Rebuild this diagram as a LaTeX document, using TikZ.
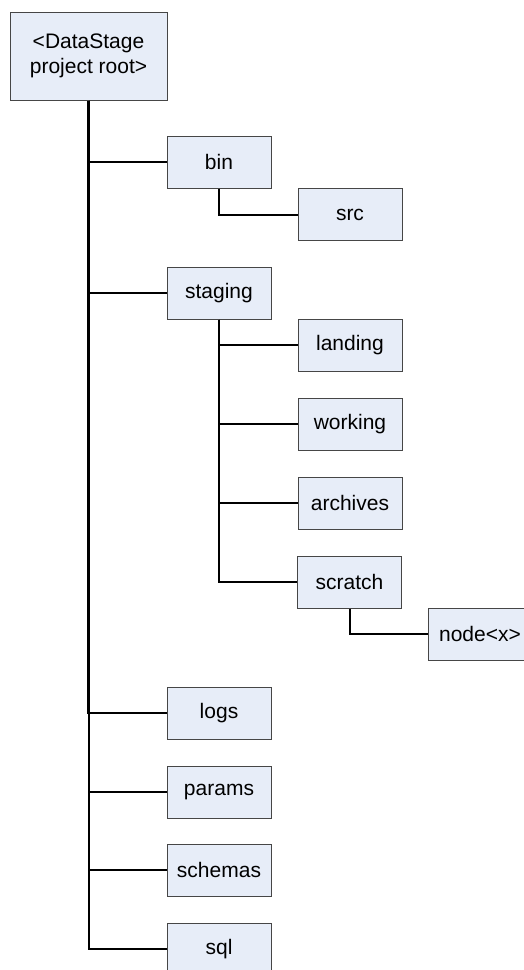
\documentclass[tikz,border=0pt]{standalone}
\usepackage{fontspec}
\setmainfont{Liberation Sans}
\usetikzlibrary{positioning, calc}
\definecolor{dirfill}{RGB}{231,237,248}
\definecolor{dirline}{RGB}{70,70,70}
\tikzset{
  dirbox/.style={
    draw=dirline, fill=dirfill, line width=1pt,
    minimum width=104pt, minimum height=52pt,
    inner sep=0pt, align=center,
    font=\fontsize{21}{25}\selectfont,
  },
  rootbox/.style={dirbox, minimum width=157pt, minimum height=88pt},
  link/.style   ={line width=2pt, black},
  trunk/.style  ={line width=2.6pt, black},
}
\begin{document}
\begin{tikzpicture}[x=1pt, y=-1pt]
\useasboundingbox (0,0) rectangle (523,970);

%% ════════════════════════════════════════════════════════════
%%  connectors (drawn first, boxes go on top)
%% ════════════════════════════════════════════════════════════
\coordinate (rootc)  at (88.5,56);
\coordinate (binc)   at (219,162);
\coordinate (stgc)   at (219,293);
\coordinate (scrc)   at (349.5,582);

%% ════════════════════════════════════════════════════════════
%%  project root and first level
%% ════════════════════════════════════════════════════════════
\node[rootbox] (root) at (rootc) {<DataStage\\project root>};

\node[dirbox] (bin)     at (binc)     {bin};
\node[dirbox] (staging) at (stgc)     {staging};
\node[dirbox] (logs)    at (219,713)  {logs};
\node[dirbox] (params)  at (219,792)  {params};
\node[dirbox] (schemas) at (219,870)  {schemas};
\node[dirbox] (sql)     at (219,949)  {sql};

%% second level
\node[dirbox] (src)      at (350,214.5) {src};
\node[dirbox] (landing)  at (350,345)   {landing};
\node[dirbox] (working)  at (350,424)   {working};
\node[dirbox] (archives) at (350,503)   {archives};
\node[dirbox] (scratch)  at (scrc)      {scratch};

%% third level
\node[dirbox] (nodex) at (480,634) {node<x>};

%% links from the root
\draw[trunk] (root.south) |- (bin.west);
\draw[trunk] (root.south) |- (staging.west);
\draw[trunk] (root.south) |- (logs.west);
\draw[link]  (root.south) |- (params.west);
\draw[link]  (root.south) |- (schemas.west);
\draw[link]  (root.south) |- (sql.west);

%% links under bin and staging
\draw[link]  (bin.south) |- (src.west);
\draw[trunk] (staging.south) |- (landing.west);
\draw[trunk] (staging.south) |- (working.west);
\draw[link]  (staging.south) |- (archives.west);
\draw[link]  (staging.south) |- (scratch.west);

%% link under scratch
\draw[link]  (scratch.south) |- (nodex.west);

\end{tikzpicture}
\end{document}
